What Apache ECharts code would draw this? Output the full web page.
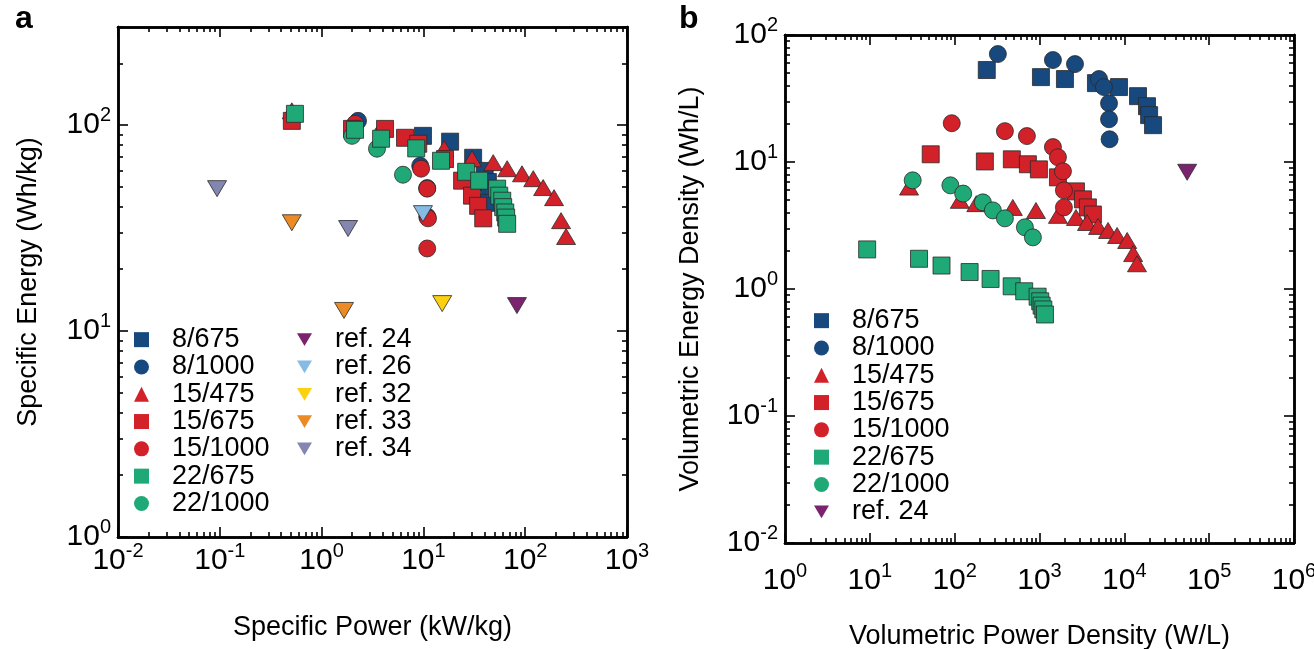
<!DOCTYPE html>
<html>
<head>
<meta charset="utf-8">
<script src="https://cdn.jsdelivr.net/npm/echarts@6/dist/echarts.min.js"></script>
<style>
  html, body { margin: 0; padding: 0; background: #fff; }
  #main { width: 1314px; height: 649px; }
</style>
</head>
<body>
<div id="main"></div>
<script>
// ---- panel a : specific power (kW/kg) vs specific energy (Wh/kg) ----
var a_8_675   = [[9.9, 88.8], [18.3, 83.2], [30.8, 69.5], [40, 60], [43, 53], [45, 47], [44, 42]];
var a_8_1000  = [[2.28, 105], [9.3, 63.5], [10.9, 49.5], [10.9, 36]];
var a_15_475  = [[0.51, 117.5], [16, 77], [30, 68.7], [48.5, 65.8], [66.5, 61.5], [93, 58.1], [120, 55], [150, 49.8], [192, 44.5], [225, 34.4], [252, 28.8]];
var a_15_675  = [[0.51, 105], [1.99, 96], [4.2, 96], [6.6, 86.9], [8.9, 81.3], [16.3, 68.5], [24, 53.8], [30, 45.5], [34.5, 40.6], [38.7, 35.3]];
var a_15_1000 = [[2.13, 101.6], [4.0, 91.9], [9.5, 61.5], [10.9, 49.2], [11.1, 35.3], [10.9, 25.2]];
var a_22_675  = [[0.547, 113.6], [2.13, 95], [3.84, 86], [8.5, 77.2], [14.9, 67.2], [26.3, 59.4], [35.3, 53.8], [53, 49.2], [55.6, 45.5], [59.5, 43], [60.8, 40], [63.7, 37.7], [65, 35.6], [66.5, 33.2]];
var a_22_1000 = [[1.99, 88.8], [3.5, 76.9], [6.3, 57.5]];
var a_ref24 = [[83, 13.3]];
var a_ref26 = [[9.9, 37.2]];
var a_ref32 = [[15.3, 13.6]];
var a_ref33 = [[0.51, 33.6], [1.66, 12.6]];
var a_ref34 = [[0.094, 49.2], [1.82, 31.5]];

// ---- panel b : volumetric power density (W/L) vs volumetric energy density (Wh/L) ----
var b_8_675   = [[239, 53], [1040, 46.6], [1995, 45], [4630, 41.8], [8650, 38.9], [14500, 33], [18500, 27.5], [19600, 23.4], [21800, 19.5]];
var b_8_1000  = [[323, 70.8], [1440, 63.5], [2620, 59], [5030, 45], [5750, 38.9], [6600, 29], [6600, 21.7], [6700, 15.1]];
var b_15_475  = [[29, 6.35], [115, 4.99], [180, 4.7], [485, 4.39], [908, 4.15], [1650, 3.8], [2690, 3.66], [3630, 3.34], [4900, 3.11], [6430, 2.89], [8210, 2.64], [10800, 2.41], [12700, 1.9], [14100, 1.58]];
var b_15_675  = [[52.2, 11.5], [227, 10.1], [472, 10.5], [730, 9.6], [984, 8.75], [1650, 7.57], [2690, 5.87], [3250, 5.08], [3720, 4.39], [4260, 3.86]];
var b_15_1000 = [[92.4, 20.2], [391, 17.5], [710, 16], [1440, 13.1], [1650, 10.9], [1890, 8.45], [1940, 5.98], [1940, 4.39]];
var b_22_675  = [[9.3, 2.05], [38, 1.73], [70, 1.53], [150, 1.36], [265, 1.2], [470, 1.05], [660, 0.96], [950, 0.87], [1020, 0.8], [1060, 0.74], [1110, 0.69], [1160, 0.63]];
var b_22_1000 = [[32, 7.17], [89, 6.55], [126, 5.64], [215, 4.81], [282, 4.16], [391, 3.6], [673, 3.06], [836, 2.55]];
var b_ref24 = [[55000, 8.3]];

// axis decades
var aTicksX = [0.01, 0.1, 1, 10, 100, 1000];
var aTicksY = [1, 10, 100];
var bTicksX = [1, 10, 100, 1000, 10000, 100000, 1000000];
var bTicksY = [0.01, 0.1, 1, 10, 100];

var FONT = '"Liberation Sans", Arial, Helvetica, sans-serif';
var NAVY = '#17497f', RED = '#d3212a', GREEN = '#1fa977';
var C24 = '#7b236f', C26 = '#86bbe3', C32 = '#fdd10f', C33 = '#ec8a25', C34 = '#8486b2';
var DOWN = 'path://M0,0L20,0L10,17Z';

function minorOf(major, top) {
  var out = [];
  for (var i = 0; i < major.length - 1; i++) {
    for (var k = 2; k <= 9; k++) {
      var v = major[i] * k;
      if (top == null || v <= top) out.push(v);
    }
  }
  return out;
}

function expLabel(v) {
  var e = Math.round(Math.log10(v));
  return '{m|10}{e|' + e + '}';
}

var richLab = {
  m: { fontSize: 30, fontFamily: FONT, color: '#000', lineHeight: 40 },
  e: { fontSize: 20, fontFamily: FONT, color: '#000', verticalAlign: 'top', lineHeight: 20 }
};

function axis(gi, pos, min, max, ticks, len, lab, name, gap, margin) {
  var o = {
    type: 'log', logBase: 10, gridIndex: gi, position: pos, min: min, max: max,
    axisLine: { show: true, lineStyle: { color: '#000', width: 2.5 } },
    axisTick: { show: true, inside: true, length: len, customValues: ticks, lineStyle: { color: '#000', width: 1.6 } },
    axisLabel: { show: false },
    splitLine: { show: false },
    minorTick: { show: false }
  };
  if (lab) {
    o.axisLabel = { show: true, customValues: ticks, formatter: expLabel, rich: richLab, margin: margin };
  }
  if (name) {
    o.name = name;
    o.nameLocation = 'middle';
    o.nameGap = gap;
    o.nameMoveOverlap = false;
    o.nameTextStyle = { fontFamily: FONT, fontSize: 27, color: '#000' };
  }
  return o;
}

function sc(name, data, symbol, size, color, ai) {
  return {
    name: name, type: 'scatter', data: data, symbol: symbol, symbolSize: size,
    xAxisIndex: ai, yAxisIndex: ai,
    itemStyle: { color: color, borderColor: '#2a2a2a', borderWidth: 0.8, opacity: 1 },
    emphasis: { disabled: true }
  };
}

function legend(names, left, top) {
  return {
    orient: 'vertical', left: left, top: top, padding: 0, itemGap: 0,
    itemWidth: 15, itemHeight: 15, data: names, selectedMode: false,
    itemStyle: { borderWidth: 0 },
    textStyle: { fontFamily: FONT, fontSize: 27, color: '#000', lineHeight: 27.3, padding: [0, 0, 0, 18] }
  };
}

var SQ = 17, CI = 17, TR = [19, 16], DN = [19, 16];

var chart = echarts.init(document.getElementById('main'), null, { renderer: 'canvas' });
chart.setOption({
  animation: false,
  backgroundColor: '#fff',
  grid: [
    { left: 118, top: 27, width: 509, height: 510, outerBoundsMode: 'none', containLabel: false },
    { left: 785, top: 35, width: 509, height: 508, outerBoundsMode: 'none', containLabel: false }
  ],
  xAxis: [
    axis(0, 'bottom', 0.01, 1000, aTicksX, 10, true, 'Specific Power (kW/kg)', 77, 4),
    axis(0, 'top', 0.01, 1000, aTicksX, 10, false),
    axis(0, 'bottom', 0.01, 1000, minorOf(aTicksX), 5, false),
    axis(0, 'top', 0.01, 1000, minorOf(aTicksX), 5, false),
    axis(1, 'bottom', 1, 1000000, bTicksX, 10, true, 'Volumetric Power Density (W/L)', 80, 18),
    axis(1, 'top', 1, 1000000, bTicksX, 10, false),
    axis(1, 'bottom', 1, 1000000, minorOf(bTicksX), 5, false),
    axis(1, 'top', 1, 1000000, minorOf(bTicksX), 5, false)
  ],
  yAxis: [
    axis(0, 'left', 1, 300, aTicksY, 10, true, 'Specific Energy (Wh/kg)', 76, 7),
    axis(0, 'right', 1, 300, aTicksY, 10, false),
    axis(0, 'left', 1, 300, minorOf([1, 10, 100, 1000], 300), 5, false),
    axis(0, 'right', 1, 300, minorOf([1, 10, 100, 1000], 300), 5, false),
    axis(1, 'left', 0.01, 100, bTicksY, 10, true, 'Volumetric Energy Density (Wh/L)', 81, 7),
    axis(1, 'right', 0.01, 100, bTicksY, 10, false),
    axis(1, 'left', 0.01, 100, minorOf(bTicksY), 5, false),
    axis(1, 'right', 0.01, 100, minorOf(bTicksY), 5, false)
  ],
  legend: [
    legend(['8/675', '8/1000', '15/475', '15/675', '15/1000', '22/675', '22/1000'], 134, 326),
    legend(['ref. 24', 'ref. 26', 'ref. 32', 'ref. 33', 'ref. 34'], 297, 326),
    legend(['8/675', '8/1000', '15/475', '15/675', '15/1000', '22/675', '22/1000', 'ref. 24'], 814, 307)
  ],
  graphic: [
    { type: 'text', left: 15, top: 3, style: { text: 'a', font: 'bold 32px ' + FONT, fill: '#000' } },
    { type: 'text', left: 679, top: 3, style: { text: 'b', font: 'bold 32px ' + FONT, fill: '#000' } }
  ],
  series: [
    sc('8/675', a_8_675, 'rect', SQ, NAVY, 0),
    sc('8/1000', a_8_1000, 'circle', CI, NAVY, 0),
    sc('15/475', a_15_475, 'triangle', TR, RED, 0),
    sc('15/1000', a_15_1000, 'circle', CI, RED, 0),
    sc('15/675', a_15_675, 'rect', SQ, RED, 0),
    sc('22/1000', a_22_1000, 'circle', CI, GREEN, 0),
    sc('22/675', a_22_675, 'rect', SQ, GREEN, 0),
    sc('ref. 24', a_ref24, DOWN, DN, C24, 0),
    sc('ref. 26', a_ref26, DOWN, DN, C26, 0),
    sc('ref. 32', a_ref32, DOWN, DN, C32, 0),
    sc('ref. 33', a_ref33, DOWN, DN, C33, 0),
    sc('ref. 34', a_ref34, DOWN, DN, C34, 0),

    sc('8/675', b_8_675, 'rect', SQ, NAVY, 4),
    sc('8/1000', b_8_1000, 'circle', CI, NAVY, 4),
    sc('22/675', b_22_675, 'rect', SQ, GREEN, 4),
    sc('15/675', b_15_675, 'rect', SQ, RED, 4),
    sc('15/475', b_15_475, 'triangle', TR, RED, 4),
    sc('15/1000', b_15_1000, 'circle', CI, RED, 4),
    sc('22/1000', b_22_1000, 'circle', CI, GREEN, 4),
    sc('ref. 24', b_ref24, DOWN, DN, C24, 4)
  ]
});
</script>
</body>
</html>
